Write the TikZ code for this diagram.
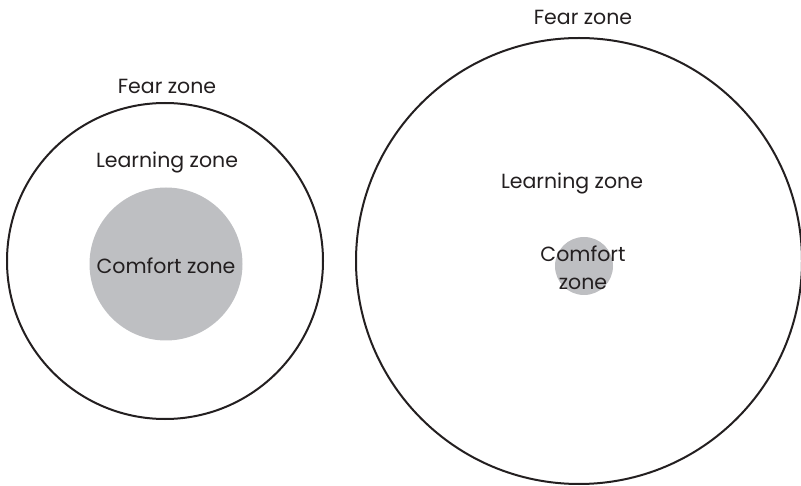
\documentclass[tikz,border=0pt]{standalone}
\usepackage{fontspec}
\setmainfont{Poppins}
\usepackage{tikz}
\usetikzlibrary{positioning}
\definecolor{ink}{RGB}{35,31,32}
\definecolor{comfortgray}{RGB}{190,191,194}
\tikzset{
  zonering/.style={circle, draw=ink, line width=2pt, inner sep=0pt},
  comfortdisc/.style={circle, fill=comfortgray, inner sep=0pt},
  zonelabel/.style={text=ink, font=\fontsize{20.5}{24}\selectfont, inner sep=0pt, align=center}
}

\begin{document}
\begin{tikzpicture}[x=1pt, y=-1pt]
\useasboundingbox (0,0) rectangle (801,486);

% small comfort zone
\node[zonering, minimum size=316pt] (outerA) at (165,261) {};
\node[comfortdisc, minimum size=153pt] (coreA) at (166,264) {};
\node[zonelabel] (fearA) at (167,86) {Fear zone};
\node[zonelabel] (learnA) at (167,162) {Learning zone};
\node[zonelabel] (comfA) at (166,266) {Comfort zone};

% large learning zone
\node[zonering, minimum size=446pt] (outerB) at (579,261) {};
\node[comfortdisc, minimum size=58pt] (coreB) at (584,266) {};
\node[zonelabel] (fearB) at (583,17) {Fear zone};
\node[zonelabel] (learnB) at (572,183) {Learning zone};
\node[zonelabel] (comfB) at (583,254) {Comfort};
\node[zonelabel] (zoneB) at (583,284) {zone};
\end{tikzpicture}
\end{document}
